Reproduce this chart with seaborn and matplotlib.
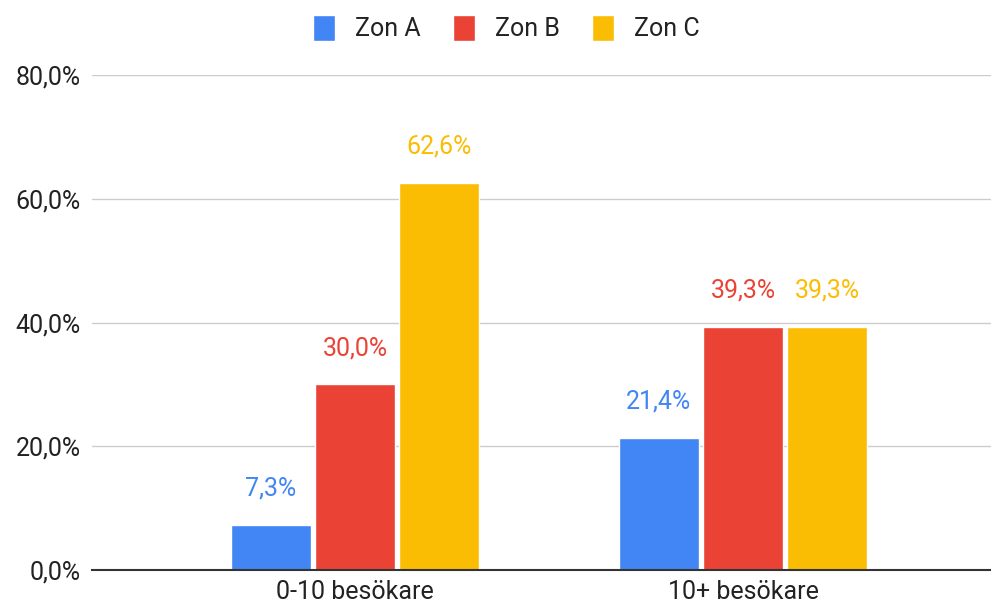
import pandas as pd
import seaborn as sns
import matplotlib.pyplot as plt
from matplotlib.ticker import FuncFormatter

categories = ['0-10 besökare', '10+ besökare']
zones = ['Zon A', 'Zon B', 'Zon C']
zon_a = [7.3, 21.4]
zon_b = [30.0, 39.3]
zon_c = [62.6, 39.3]
colors = ['#4285F4', '#EA4335', '#FBBC04']

df = pd.DataFrame({
    'Kategori': categories * 3,
    'Zon': [z for z in zones for _ in categories],
    'Andel': zon_a + zon_b + zon_c,
})

sns.set_style('white')
plt.rcParams['font.family'] = ['Roboto', 'DejaVu Sans']

fig = plt.figure(figsize=(9.91, 6.04), dpi=100)
ax = fig.add_axes([92 / 991, 34 / 604, 1 - 92 / 991, (570 - 75) / 604])

sns.barplot(data=df, x='Kategori', y='Andel', hue='Zon', palette=colors,
            width=0.65, gap=0.05, saturation=1, ax=ax)

ax.set_ylim(0, 80)
ax.set_xlim(-(355 - 92) / 388, 1 + (991 - 743) / 388)
ax.set_yticks([0, 20, 40, 60, 80])
ax.yaxis.set_major_formatter(FuncFormatter(lambda v, p: f'{v:.1f}%'.replace('.', ',')))
ax.grid(axis='y', color='#cccccc', linewidth=1)
ax.set_axisbelow(True)
for s in ['top', 'right', 'left']:
    ax.spines[s].set_visible(False)
ax.spines['bottom'].set_color('#333333')
ax.spines['bottom'].set_linewidth(1.5)
ax.spines['bottom'].set_zorder(5)
ax.tick_params(axis='both', length=0, labelsize=18, labelcolor='#222222')
ax.tick_params(axis='y', pad=8)
ax.tick_params(axis='x', pad=7)
ax.set_xlabel('')
ax.set_ylabel('')

for cont, col in zip(ax.containers, colors):
    ax.bar_label(cont, labels=[f'{v:.1f}%'.replace('.', ',') for v in cont.datavalues],
                 padding=17.5, color=col, fontsize=18)

sns.move_legend(ax, 'center', bbox_to_anchor=((506.5 - 92) / 899, (570 - 28) / 495),
                ncol=3, frameon=False, title=None, fontsize=18,
                handlelength=0.88, handleheight=1.23, handletextpad=0.8,
                columnspacing=1.3)
for t in ax.get_legend().get_texts():
    t.set_color('#222222')

fig.savefig('out.png', dpi=100)
